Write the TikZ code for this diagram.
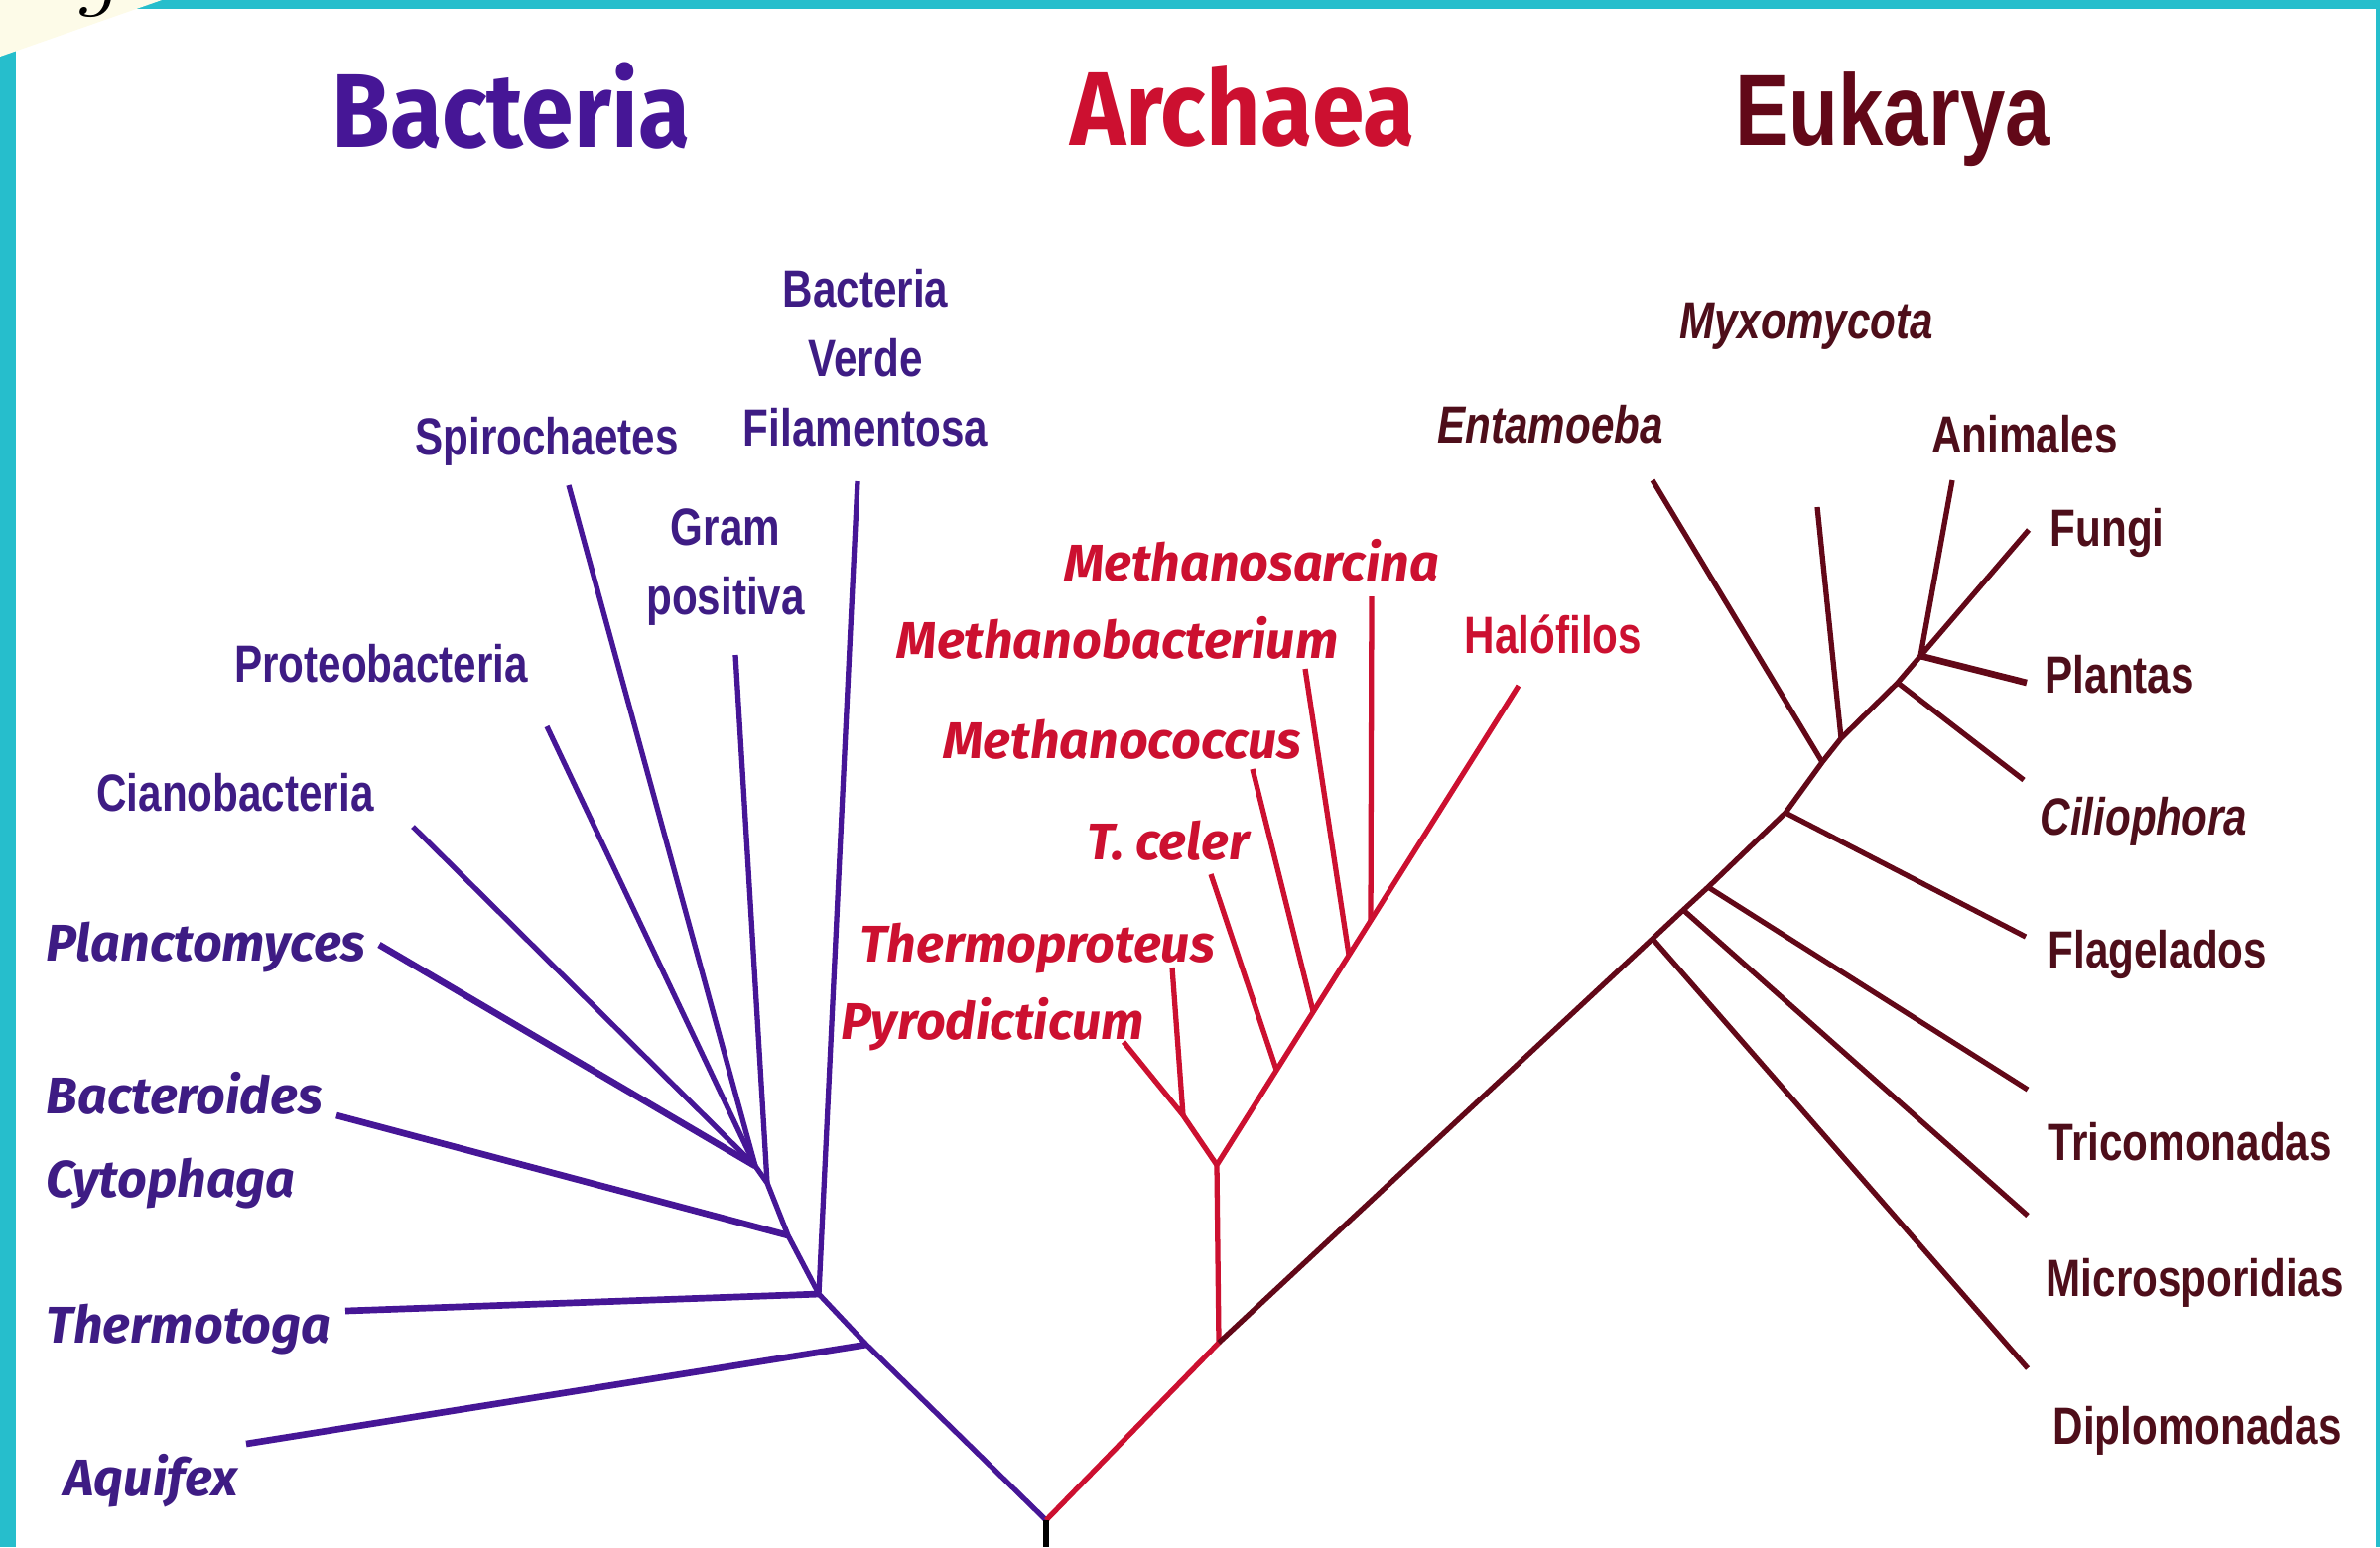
\documentclass[tikz,border=0pt]{standalone}
\usepackage{fontspec}
\usepackage{xcolor}
\newfontfamily\ubufont[FakeStretch=0.9]{Fira Sans}
\newfontfamily\itfont{Fira Sans}
\newfontfamily\arifont[FakeStretch=0.8]{Liberation Sans}
\definecolor{framecyan}{RGB}{38,190,204}
\definecolor{cream}{RGB}{253,251,232}
\definecolor{bactcol}{RGB}{70,22,150}
\definecolor{bacttext}{RGB}{62,28,132}
\definecolor{archcol}{RGB}{204,16,48}
\definecolor{eukcol}{RGB}{98,8,24}
\definecolor{euktext}{RGB}{78,14,26}
\tikzset{
  bactline/.style  = {bactcol,line width=1.5pt,line join=round},
  archline/.style  = {archcol,line width=1.5pt,line join=round},
  eukline/.style   = {eukcol,line width=1.5pt,line join=round},
  heavy/.style     = {line width=1.9pt},
  grouptitle/.style= {inner sep=0pt,anchor=base,font=\ubufont\bfseries\fontsize{30}{36}\selectfont},
  plainlab/.style  = {inner sep=0pt,font=\arifont\bfseries\fontsize{15}{19.9}\selectfont},
  itlab/.style     = {inner sep=0pt,font=\itfont\bfseries\itshape\fontsize{14.8}{18}\selectfont},
  eitlab/.style    = {inner sep=0pt,font=\arifont\bfseries\itshape\fontsize{15}{18}\selectfont}
}

\begin{document}
\begin{tikzpicture}[x=0.01cm,y=-0.01cm]
  \useasboundingbox (0,0) rectangle (2398,1559);
  % frame
  \fill[framecyan] (0,0) rectangle (2398,9);
  \fill[framecyan] (0,0) rectangle (16,1559);
  \fill[framecyan] (2394,0) rectangle (2398,1559);
  \fill[cream] (0,0) -- (163,0) -- (0,57) -- cycle;
  \node[inner sep=0pt,anchor=base,font=\itshape\fontsize{28}{30}\selectfont] (figg) at (98,-3) {g};

  % titles
  \node[grouptitle,bactcol] (tbac) at (515,148) {Bacteria};
  \node[grouptitle,archcol] (tarc) at (1252,146) {Archaea};
  \node[grouptitle,eukcol,font=\arifont\bfseries\fontsize{29}{34}\selectfont] (teuk) at (1907,146) {Eukarya};

  % tree points
  \coordinate (root) at (1054,1532);
  \coordinate (rootend) at (1054,1559);
  \coordinate (Aj) at (873,1355);
  \coordinate (Tj) at (825,1304);
  \coordinate (Bj) at (794,1245);
  \coordinate (Gj) at (773,1192);
  \coordinate (Fj) at (761,1175);
  \coordinate (lAqu) at (248,1455);
  \coordinate (lThe) at (348,1321);
  \coordinate (lBac) at (339,1124);
  \coordinate (lPla) at (382,952);
  \coordinate (lCia) at (416,833);
  \coordinate (lPro) at (551,732);
  \coordinate (lSpi) at (573,489);
  \coordinate (lGra) at (741,660);
  \coordinate (lFil) at (864,485);

  \coordinate (A0) at (1228,1353);
  \coordinate (A1) at (1226,1174);
  \coordinate (P) at (1192,1124);
  \coordinate (lPyr) at (1132,1050);
  \coordinate (lThp) at (1181,975);
  \coordinate (Jce) at (1286,1078);
  \coordinate (Jco) at (1323,1019);
  \coordinate (Jba) at (1359,962);
  \coordinate (Jsa) at (1381,928);
  \coordinate (lHal) at (1530,691);
  \coordinate (lTce) at (1220,881);
  \coordinate (lMco) at (1262,775);
  \coordinate (lMba) at (1315,674);
  \coordinate (lMsa) at (1382,601);

  \coordinate (Ed) at (1665,946);
  \coordinate (Em) at (1696,917);
  \coordinate (Et) at (1721,894);
  \coordinate (Ef) at (1799,819);
  \coordinate (Een) at (1836,768);
  \coordinate (Emy) at (1855,744);
  \coordinate (Eci) at (1912,688);
  \coordinate (Ecr) at (1935,661);
  \coordinate (lDip) at (2043,1379);
  \coordinate (lMic) at (2043,1225);
  \coordinate (lTri) at (2043,1098);
  \coordinate (lFla) at (2041,944);
  \coordinate (lEnt) at (1665,484);
  \coordinate (lMyx) at (1831,511);
  \coordinate (lCil) at (2039,786);
  \coordinate (lAni) at (1967,484);
  \coordinate (lFun) at (2044,534);
  \coordinate (lPlt) at (2042,688);

  % bacteria
  \draw[bactline] (root) -- (Aj) -- (Tj) -- (Bj) -- (Gj) -- (Fj);
  \draw[bactline,heavy] (lAqu) -- (Aj);
  \draw[bactline,heavy] (lThe) -- (Tj);
  \draw[bactline] (lFil) -- (Tj);
  \draw[bactline,heavy] (lBac) -- (Bj);
  \draw[bactline] (lGra) -- (Gj);
  \draw[bactline,heavy] (lPla) -- (Fj);
  \foreach \leaf in {lCia,lPro,lSpi}
    \draw[bactline] (\leaf) -- (Fj);

  % archaea
  \draw[archline] (root) -- (A0) -- (A1) -- (lHal);
  \draw[archline] (A1) -- (P);
  \draw[archline] (lPyr) -- (P) -- (lThp);
  \draw[archline] (lTce) -- (Jce);
  \draw[archline] (lMco) -- (Jco);
  \draw[archline] (lMba) -- (Jba);
  \draw[archline] (lMsa) -- (Jsa);

  % eukarya
  \draw[eukline] (A0) -- (Ed) -- (Em) -- (Et) -- (Ef) -- (Een) -- (Emy) -- (Eci) -- (Ecr);
  \draw[eukline] (lDip) -- (Ed);
  \draw[eukline] (lMic) -- (Em);
  \draw[eukline] (lTri) -- (Et);
  \draw[eukline] (lFla) -- (Ef);
  \draw[eukline] (lEnt) -- (Een);
  \draw[eukline] (lMyx) -- (Emy);
  \draw[eukline] (lCil) -- (Eci);
  \draw[eukline] (lAni) -- (Ecr) -- (lFun);
  \draw[eukline,heavy] (Ecr) -- (lPlt);

  \draw[black,line width=1.7pt] (root) -- (rootend);

  % bacteria labels
  \node[plainlab,bacttext,align=center] (nFil) at (872,361) {Bacteria\\Verde\\Filamentosa};
  \node[plainlab,bacttext,align=center] (nGra) at (731,572) {Gram\\positiva};
  \node[plainlab,bacttext,anchor=base] (nSpi) at (551,458) {Spirochaetes};
  \node[plainlab,bacttext,anchor=base] (nPro) at (384,687) {Proteobacteria};
  \node[plainlab,bacttext,anchor=base] (nCia) at (237,817) {Cianobacteria};
  \node[itlab,bacttext,anchor=base west] (nPla) at (46,968) {Planctomyces};
  \node[itlab,bacttext,anchor=base west] (nBac) at (46,1122) {Bacteroides};
  \node[itlab,bacttext,anchor=base west] (nCyt) at (46,1206) {Cytophaga};
  \node[itlab,bacttext,anchor=base west] (nThe) at (46,1353) {Thermotoga};
  \node[itlab,bacttext,anchor=base west] (nAqu) at (64,1507) {Aquifex};

  % archaea labels
  \node[itlab,archcol,anchor=base] (nMsa) at (1261,585) {Methanosarcina};
  \node[itlab,archcol,anchor=base] (nMba) at (1126,663) {Methanobacterium};
  \node[itlab,archcol,anchor=base] (nMco) at (1131,764) {Methanococcus};
  \node[itlab,archcol,anchor=base] (nTce) at (1177,866) {T. celer};
  \node[itlab,archcol,anchor=base] (nThp) at (1045,969) {Thermoproteus};
  \node[itlab,archcol,anchor=base] (nPyr) at (1000,1047) {Pyrodicticum};
  \node[plainlab,archcol,anchor=base] (nHal) at (1565,658) {Halófilos};

  % eukarya labels
  \node[eitlab,euktext,anchor=base] (nMyx) at (1820,341) {Myxomycota};
  \node[eitlab,euktext,anchor=base] (nEnt) at (1562,446) {Entamoeba};
  \node[plainlab,euktext,anchor=base] (nAni) at (2040,456) {Animales};
  \node[plainlab,euktext,anchor=base west] (nFun) at (2065,550) {Fungi};
  \node[plainlab,euktext,anchor=base west] (nPlt) at (2060,698) {Plantas};
  \node[eitlab,euktext,anchor=base west] (nCil) at (2055,841) {Ciliophora};
  \node[plainlab,euktext,anchor=base west] (nFla) at (2063,975) {Flagelados};
  \node[plainlab,euktext,anchor=base west] (nTri) at (2063,1169) {Tricomonadas};
  \node[plainlab,euktext,anchor=base west] (nMic) at (2061,1306) {Microsporidias};
  \node[plainlab,euktext,anchor=base west] (nDip) at (2068,1455) {Diplomonadas};
\end{tikzpicture}
\end{document}
